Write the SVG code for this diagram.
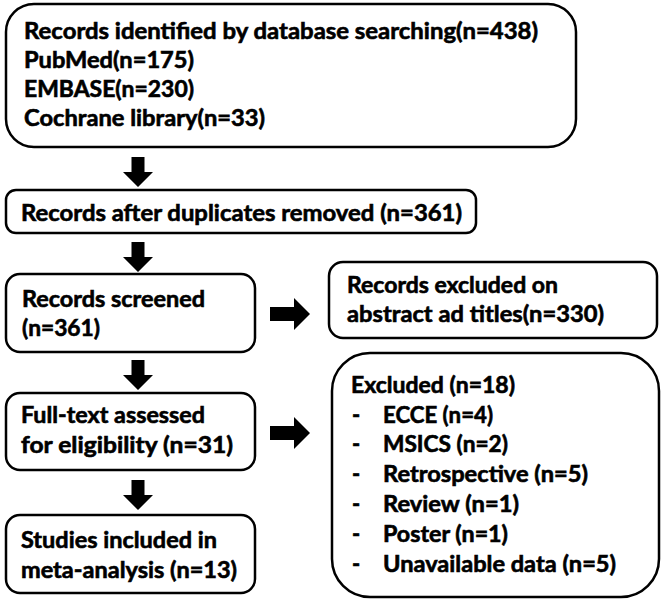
<svg xmlns="http://www.w3.org/2000/svg" width="666" height="601" viewBox="0 0 666 601">
<style>
.box{fill:#fff;stroke:#000;stroke-width:2.5}
.t{font-family:Lato,"Liberation Sans",sans-serif;font-weight:bold;font-size:22px;fill:#000;stroke:#000;stroke-width:0.6}
.arr{fill:#000;stroke:none}
</style>
<rect width="666" height="601" fill="#fff"/>
<g id="connectors">
<polygon class="arr" points="131.5,157 144.5,157 144.5,172 153,172 138,187 123,172 131.5,172"/>
<polygon class="arr" points="131.5,242 144.5,242 144.5,257 153,257 138,272 123,257 131.5,257"/>
<polygon class="arr" points="131.5,360 144.5,360 144.5,375 153,375 138,390 123,375 131.5,375"/>
<polygon class="arr" points="131.5,480 144.5,480 144.5,495 153,495 138,510 123,495 131.5,495"/>
<polygon class="arr" points="270,307 294,307 294,298 310,314 294,330 294,321 270,321"/>
<polygon class="arr" points="270,426 294,426 294,417 310,433 294,449 294,440 270,440"/>
</g>
<g id="identified">
<rect class="box" x="6" y="4" width="570" height="143" rx="28"/>
<text class="t" x="24" y="39" textLength="514" lengthAdjust="spacingAndGlyphs">Records identified by database searching(n=438)</text>
<text class="t" x="24" y="68" textLength="170" lengthAdjust="spacingAndGlyphs">PubMed(n=175)</text>
<text class="t" x="24" y="97" textLength="170" lengthAdjust="spacingAndGlyphs">EMBASE(n=230)</text>
<text class="t" x="24" y="126" textLength="241" lengthAdjust="spacingAndGlyphs">Cochrane library(n=33)</text>
</g>
<g id="duplicates">
<rect class="box" x="6" y="190" width="470" height="43" rx="10"/>
<text class="t" x="21" y="221" textLength="441" lengthAdjust="spacingAndGlyphs">Records after duplicates removed (n=361)</text>
</g>
<g id="screened">
<rect class="box" x="6" y="274" width="249" height="78" rx="14"/>
<text class="t" x="22" y="307" textLength="183" lengthAdjust="spacingAndGlyphs">Records screened</text>
<text class="t" x="22" y="336" textLength="78" lengthAdjust="spacingAndGlyphs">(n=361)</text>
</g>
<g id="excluded-abstract">
<rect class="box" x="329" y="262" width="328" height="76" rx="14"/>
<text class="t" x="347" y="293" textLength="211" lengthAdjust="spacingAndGlyphs">Records excluded on</text>
<text class="t" x="347" y="322" textLength="257" lengthAdjust="spacingAndGlyphs">abstract ad titles(n=330)</text>
</g>
<g id="fulltext">
<rect class="box" x="6" y="393" width="249" height="77" rx="14"/>
<text class="t" x="21" y="423" textLength="184" lengthAdjust="spacingAndGlyphs">Full-text assessed</text>
<text class="t" x="21" y="453" textLength="212" lengthAdjust="spacingAndGlyphs">for eligibility (n=31)</text>
</g>
<g id="excluded-fulltext">
<rect class="box" x="332" y="353" width="327" height="244" rx="38"/>
<text class="t" x="351" y="393" textLength="164" lengthAdjust="spacingAndGlyphs">Excluded (n=18)</text>
<text class="t" x="352" y="423">-</text><text class="t" x="383" y="423" textLength="110" lengthAdjust="spacingAndGlyphs">ECCE (n=4)</text>
<text class="t" x="352" y="452">-</text><text class="t" x="383" y="452" textLength="125" lengthAdjust="spacingAndGlyphs">MSICS (n=2)</text>
<text class="t" x="352" y="482">-</text><text class="t" x="383" y="482" textLength="205" lengthAdjust="spacingAndGlyphs">Retrospective (n=5)</text>
<text class="t" x="352" y="512">-</text><text class="t" x="383" y="512" textLength="136" lengthAdjust="spacingAndGlyphs">Review (n=1)</text>
<text class="t" x="352" y="542">-</text><text class="t" x="383" y="542" textLength="125" lengthAdjust="spacingAndGlyphs">Poster (n=1)</text>
<text class="t" x="352" y="572">-</text><text class="t" x="383" y="572" textLength="233" lengthAdjust="spacingAndGlyphs">Unavailable data (n=5)</text>
</g>
<g id="included">
<rect class="box" x="6" y="515" width="249" height="78" rx="14"/>
<text class="t" x="21" y="548" textLength="196" lengthAdjust="spacingAndGlyphs">Studies included in</text>
<text class="t" x="21" y="578" textLength="216" lengthAdjust="spacingAndGlyphs">meta-analysis (n=13)</text>
</g>
</svg>
